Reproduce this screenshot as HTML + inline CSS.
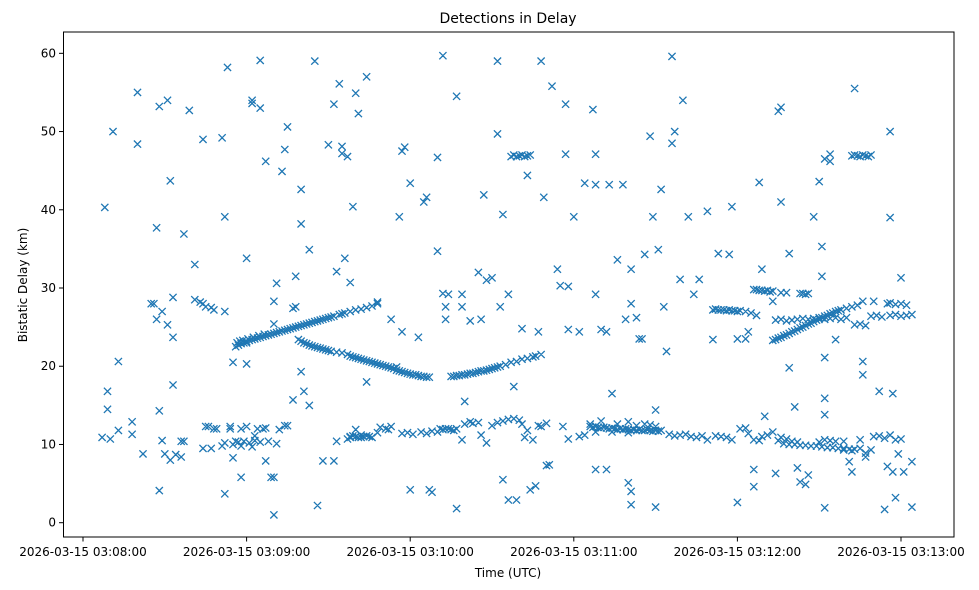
<!DOCTYPE html>
<html><head><meta charset="utf-8"><title>Detections in Delay</title>
<style>
html,body{margin:0;padding:0;background:#fff;}
svg{display:block;font-family:"DejaVu Sans","Liberation Sans",sans-serif;}
</style></head>
<body>
<svg id="chart" width="979" height="590" viewBox="0 0 979 590" xmlns="http://www.w3.org/2000/svg">
<rect x="0" y="0" width="979" height="590" fill="#fff"/>
<text x="508" y="23" text-anchor="middle" font-size="14" fill="#000">Detections in Delay</text>
<g id="marks"></g>
<rect x="63.5" y="32" width="890.5" height="505" fill="none" stroke="#000" stroke-width="1"/>
<g id="xaxis"></g>
<g id="yaxis"></g>
<text x="508" y="577" text-anchor="middle" font-size="12">Time (UTC)</text>
<text transform="translate(27,285) rotate(-90)" text-anchor="middle" font-size="12">Bistatic Delay (km)</text>
</svg>
<script>
const xTickSeconds = [0, 60, 120, 180, 240, 300];
const xTickLabels = ["2026-03-15 03:08:00","2026-03-15 03:09:00","2026-03-15 03:10:00","2026-03-15 03:11:00","2026-03-15 03:12:00","2026-03-15 03:13:00"];
const yTickValues = [0,10,20,30,40,50,60];
const yTickLabels = ["0","10","20","30","40","50","60"];

// [seconds after 03:08:00, delay km]
const scatterPts = [
[8,40.3],[9,16.8],[9,14.5],[7,10.9],[10,10.7],[11,50],[13,11.8],[13,20.6],[18,11.3],[18,12.9],[20,55],[20,48.4],[22,8.8],
[25,28],[26,28],[27,37.7],[27,26],[28,53.2],[28,4.1],[28,14.3],[29,27],[29,10.5],[31,54],[31,25.3],[32,43.7],[33,23.7],[33,28.8],[33,17.6],
[30,8.8],[32,8],[34,8.7],[36,10.4],[37,10.4],[37,36.9],[36,8.4],[39,52.7],[41,33],[41,28.5],[43,28.2],[44,28],[45,27.6],[47,27.5],[48,27.2],
[44,49],[44,9.5],[45,12.3],[46,12.3],[48,12],[49,12],[47,9.5],[51,49.2],[52,27],[52,39.1],[52,3.7],[53,58.2],[51,9.8],[52,10.2],[54,12],[54,12.3],
[55,20.5],[55,8.3],[55,10],[56,10.4],[58,12],[58,5.8],[60,23],[60,33.8],[60,20.3],[60,12.3],[62,53.6],[62,54],[63,11.1],[64,12],[65,59.1],[65,53],
[66,12],[67,12.1],[67,46.2],[67,7.9],[69,5.8],[70,5.8],[70,28.3],[71,30.6],[70,1.0],[70,25.4],[71,10.1],[73,44.9],[74,47.7],[75,50.6],[72,11.9],
[74,12.4],[75,12.4],[77,15.7],[77,27.4],[78,31.5],[78,27.6],[80,38.2],[80,42.6],[80,19.3],[81,16.8],[83,34.9],[83,15],[85,59],[86,2.2],[88,7.9],
[90,48.3],[92,7.9],[93,10.4],[92,53.5],[93,32.1],[94,56.1],[95,48.1],[95,47.2],[96,33.8],[97,10.7],[97,46.8],[98,30.7],[99,40.4],[100,11.9],
[100,54.9],[101,52.3],[104,57],[104,18],[98,10.9],[102,10.9],[108,28.2],[113,26],[116,39.1],[117,24.4],[117,47.5],[118,48],[120,43.4],[120,4.2],
[125,41],[126,41.6],[130,46.7],[130,34.7],[127,4.2],[132,59.7],[132,29.3],[133,27.6],[133,26],[134,29.2],[137,54.5],[137,1.8],[139,27.6],[139,29.2],
[140,15.5],[142,25.8],[145,32],[146,26],[147,41.9],[148,31],[150,31.3],[152,59],[153,27.6],[152,49.7],[154,39.4],[154,5.5],[156,29.2],[156,2.9],
[158,17.4],[159,2.9],[161,24.8],[163,44.4],[164,4.2],[166,4.7],[167,24.4],[168,59],[169,41.6],[170,7.3],[171,7.4],[172,55.8],[174,32.4],[175,30.3],
[176,12.3],[177,53.5],[177,47.1],[178,24.7],[178,30.2],[180,39.1],[182,24.4],[184,43.4],[187,52.8],[188,47.1],[188,43.2],[188,29.2],[188,6.8],
[190,24.7],[192,6.8],[193,43.2],[192,24.4],[194,16.5],[196,33.6],[198,43.2],[199,26],[200,5.1],[201,4],[201,2.3],[201,32.4],[201,28],[203,26.2],
[204,23.5],[205,23.5],[206,34.3],[208,49.4],[209,39.1],[210,14.4],[210,2],[211,34.9],[212,42.6],[213,27.6],[214,21.9],[216,48.5],[216,59.6],
[217,50],[220,54],[219,31.1],[222,39.1],[224,29.2],[226,31.1],[229,39.8],[231,23.4],[233,34.4],[234,11],[237,34.3],[238,40.4],[240,2.6],[240,23.5],
[243,23.5],[244,24.4],[246,6.8],[246,4.6],[248,43.5],[249,32.4],[250,13.6],[253,28.3],[254,6.3],[255,52.6],[256,53.1],[256,41],[259,34.4],[259,19.8],
[261,14.8],[262,7],[263,5.2],[265,4.9],[266,6.1],[268,39.1],[270,43.6],[271,31.5],[271,35.3],[272,15.9],[272,21.1],[272,13.8],[272,1.9],[272,46.5],
[274,46.2],[274,47.1],[276,23.4],[279,10.4],[281,7.8],[282,6.5],[283,55.5],[285,10.6],[286,20.6],[286,18.9],[287,8.4],[289,9.3],[290,28.3],
[292,16.8],[294,1.7],[295,7.2],[296,50],[296,39],[297,6.5],[297,16.5],[298,3.2],[299,8.8],[300,31.3],[301,6.5],[304,2],[304,7.8],[115,19.9],[123,23.7],[128,3.9]
];

const trackPts = [
[56,22.5],[56.5,23],[57,22.7],[57.5,23.2],[58,22.9],[58.6,23.3],[59,23],[60,23.2],[60.5,23.5],[61,23.3],[62,23.4],[62.5,23.7],[63,23.5],[64,23.6],[64.5,23.9],
[65,23.7],[66,23.8],[66.5,24.1],[67,23.9],[68,24],[69,24.1],[70,24.2],[71,24.3],[72,24.4],[73,24.5],[74,24.6],[75,24.7],[76,24.8],[77,24.9],
[78,25],[79,25.1],[80,25.2],[81,25.3],[82,25.4],[83,25.5],[84,25.6],[85,25.7],[86,25.8],[87,25.9],[88,26],[89,26.1],[90,26.2],[91,26.3],[92,26.4],
[94,26.6],[95,26.7],[96,26.8],[98,27],[100,27.2],[102,27.3],[104,27.5],[106,27.7],[108,28],
[79,23.4],[80,23.2],[81,23],[82,22.9],[83,22.7],[84,22.6],[85,22.5],[86,22.4],[87,22.3],[88,22.2],[89,22.1],[90,22],[91,21.9],[93,21.8],[95,21.7],
[97,21.5],[98,21.3],[99,21.2],[100,21.1],[101,21],[102,20.9],[103,20.8],[104,20.7],[105,20.6],[106,20.5],[107,20.4],[108,20.3],[109,20.2],[110,20.1],
[111,20],[112,19.9],[113,19.8],[114,19.7],[115,19.5],[116,19.4],[117,19.3],[118,19.2],[119,19.1],[120,19],[121,18.9],[122,18.9],[123,18.8],[124,18.7],
[125,18.7],[126,18.6],[127,18.6],
[135,18.7],[136,18.7],[137,18.8],[138,18.8],[139,18.9],[140,18.9],[141,19],[142,19.1],[143,19.1],[144,19.2],[145,19.3],[146,19.4],[147,19.4],
[148,19.5],[149,19.6],[150,19.7],[151,19.8],[152,19.9],[153,20],[155,20.2],[157,20.5],[159,20.6],[161,20.9],[163,21],[165,21.2],[166,21.3],[168,21.5],
[186,12.3],[187,12.2],[188,12.3],[189,12.2],[190,12.1],[191,12.2],[192,12.1],[193,12],[194,12.1],[195,12],[196,11.9],[197,12],[198,11.9],[199,12],
[200,11.9],[201,11.8],[202,11.9],[203,11.8],[204,11.9],[205,11.8],[206,11.8],[207,11.9],[208,11.8],[209,11.7],[210,11.8],[211,11.7],[212,11.8],[188,11.6],[194,11.6],[200,11.5],
[231,27.2],[232,27.3],[233,27.2],[234,27.2],[235,27.2],[236,27.1],[237,27.2],[238,27.1],[239,27.1],[240,27],[241,27.1],[243,27],[245,26.8],[247,26.5],
[246,29.8],[247,29.8],[248,29.7],[249,29.7],[250,29.6],[251,29.7],[252,29.5],[253,29.6],[256,29.4],[258,29.4],[263,29.3],[264,29.3],[265,29.2],[266,29.3],
[253,23.3],[254,23.4],[255,23.6],[256,23.7],[257,23.9],[258,24],[259,24.2],[260,24.4],[261,24.5],[262,24.7],[263,24.9],[264,25],[265,25.2],[266,25.4],
[267,25.5],[268,25.7],[269,25.9],[270,26],[271,26.2],[272,26.4],[273,26.5],[274,26.7],[275,26.8],[276,27],[277,27.1],[278,27.2],[280,27.4],[282,27.6],[284,27.8],[286,28.3],
[254,25.9],[256,26],[258,25.8],[260,25.9],[262,26],[264,26.1],[266,26],[268,26.1],[270,26.2],[272,26],[274,26.1],[276,26.2],[278,26],[280,26.2],
[283,25.3],[285,25.4],[287,25.2],[289,26.4],[291,26.5],[293,26.3],[295,28],[296,28.1],[298,27.9],[300,28],[302,27.8],[296,26.5],[298,26.6],[300,26.4],[302,26.5],[304,26.6],
[257,10.1],[259,10],[261,10],[263,9.9],[265,9.9],[267,9.8],[269,9.8],[271,9.7],[273,9.6],[275,9.6],[277,9.5],[279,9.5],[281,9.4],[283,9.4]
];

const clusterPts = [
[57,10.3],[59,10.4],[61,10.2],[63,10.5],[65,10.3],[68,10.4],[58,9.8],[62,9.7],
[98,11],[99,11.1],[100,11],[101,10.9],[102,11.2],[103,11],[104,11.1],[105,11],[106,10.9],[108,11.5],[109,12.2],[111,12],[112,11.9],[113,12.3],
[117,11.4],[119,11.5],[121,11.3],[124,11.6],[126,11.4],[128,11.7],[130,11.6],
[131,12],[132,11.9],[133,12],[134,12],[135,11.9],[136,11.8],[137,12],[139,10.6],[140,12.6],[142,12.9],[143,12.7],[145,12.8],[146,11.2],[148,10.2],
[150,12.4],[152,12.8],[154,13],[156,13.2],[158,13.3],[160,13.1],[161,12.6],[162,10.9],[163,11.8],[165,10.6],[167,12.4],[168,12.3],[170,12.7],
[178,10.7],[182,11],[184,11.2],[186,12.6],[190,13],[196,12.6],[200,12.9],[203,12.4],[206,12.6],[208,12.5],[210,12.3],
[215,11.3],[217,11.1],[219,11.2],[221,11.3],[223,11],[225,10.9],[227,11.1],[229,10.6],[232,11.1],[236,10.9],[238,10.6],
[241,12],[243,12.1],[244,11.4],[246,10.6],[248,10.5],[249,11],[251,11.2],[253,11.6],[255,10.5],[256,10.9],[258,10.7],[260,10.4],[262,10.3],
[270,10.3],[272,10.6],[274,10.5],[276,10.4],[279,9.3],[282,9.2],[285,9.5],[287,8.9],[290,11],[292,11.1],[294,10.8],[296,11.2],[298,10.6],[300,10.7],
[157,46.8],[158,47],[159,46.8],[160,46.9],[161,47],[162,46.8],[163,46.9],[164,47],
[282,46.9],[283,47],[284,46.9],[285,46.8],[286,47],[287,46.9],[288,46.8],[289,47]
];

const X0 = 83, PX_PER_SEC = 163.6/60;
const Y0 = 522.7, PX_PER_KM = 7.823;
function xScale(t){ return X0 + t*PX_PER_SEC; }
function yScale(d){ return Y0 - d*PX_PER_KM; }

const NS = "http://www.w3.org/2000/svg";
const marks = document.getElementById('marks');
function drawGroup(arr, name){
  const g = document.createElementNS(NS,'g');
  
  
  let d = '';
  arr.forEach(p => {
    const cx = xScale(p[0]), cy = yScale(p[1]), r = 3.6;
    d += `M${(cx-r).toFixed(1)} ${(cy-r).toFixed(1)}L${(cx+r).toFixed(1)} ${(cy+r).toFixed(1)}M${(cx-r).toFixed(1)} ${(cy+r).toFixed(1)}L${(cx+r).toFixed(1)} ${(cy-r).toFixed(1)}`;
  });
  const path = document.createElementNS(NS,'path');
  path.setAttribute('d', d);
  path.setAttribute('stroke', '#1f77b4');
  path.setAttribute('stroke-width', '1.3');
  path.setAttribute('fill', 'none');
  
  
  g.appendChild(path);
  marks.appendChild(g);
}
drawGroup(scatterPts, 'scattered-detections');
drawGroup(trackPts, 'track-detections');
drawGroup(clusterPts, 'cluster-detections');

const xa = document.getElementById('xaxis');
xTickSeconds.forEach((s,i) => {
  const x = xScale(s);
  const l = document.createElementNS(NS,'line');
  l.setAttribute('x1', x); l.setAttribute('x2', x);
  l.setAttribute('y1', 537); l.setAttribute('y2', 541.5);
  l.setAttribute('stroke', '#000');
  
  
  xa.appendChild(l);
  const t = document.createElementNS(NS,'text');
  t.setAttribute('x', x); t.setAttribute('y', 556);
  t.setAttribute('text-anchor', 'middle');
  t.setAttribute('font-size', '12');
  
  
  t.textContent = xTickLabels[i];
  xa.appendChild(t);
});
const ya = document.getElementById('yaxis');
yTickValues.forEach((v,i) => {
  const y = yScale(v);
  const l = document.createElementNS(NS,'line');
  l.setAttribute('x1', 59); l.setAttribute('x2', 63.5);
  l.setAttribute('y1', y); l.setAttribute('y2', y);
  l.setAttribute('stroke', '#000');
  
  
  ya.appendChild(l);
  const t = document.createElementNS(NS,'text');
  t.setAttribute('x', 56); t.setAttribute('y', y + 4);
  t.setAttribute('text-anchor', 'end');
  t.setAttribute('font-size', '12');
  
  
  t.textContent = yTickLabels[i];
  ya.appendChild(t);
});
</script>
</body></html>
